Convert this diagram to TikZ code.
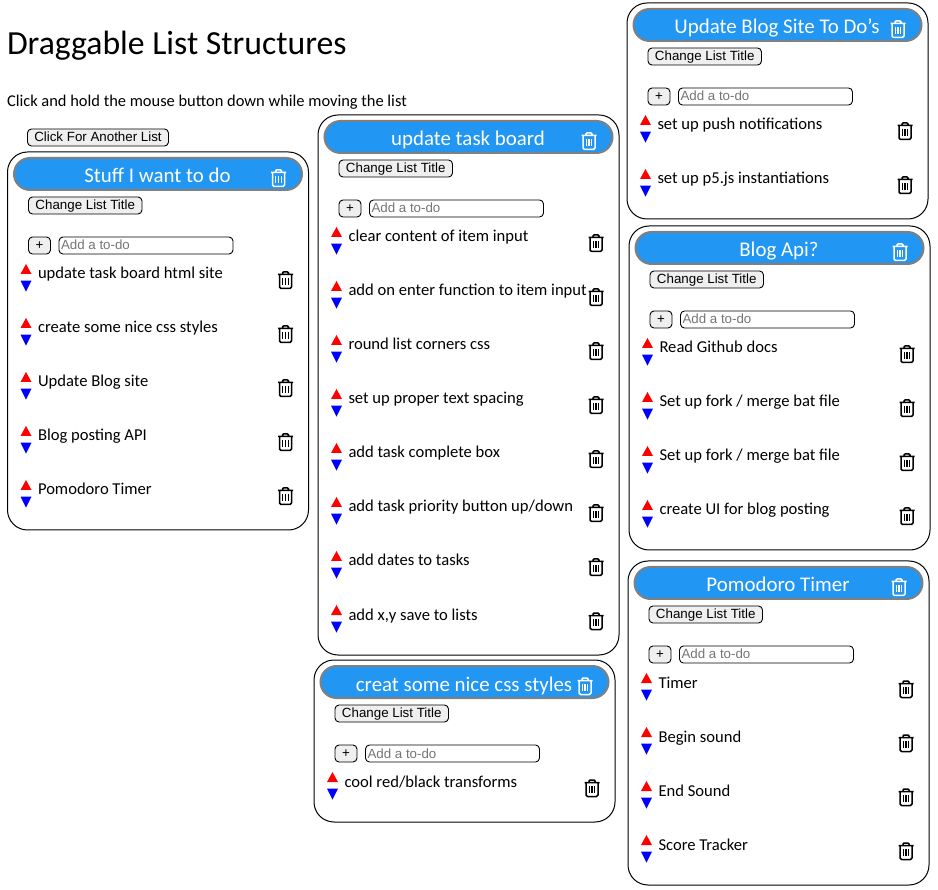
\documentclass[tikz,border=0pt]{standalone}
\usepackage{fontspec}
\setmainfont{Carlito}
\newfontfamily\btnfont{Liberation Sans}
\usepackage{xcolor}
\definecolor{headblue}{HTML}{2196F3}
\definecolor{btngray}{HTML}{EFEFEF}
\definecolor{hintgray}{HTML}{757575}
\tikzset{
    every node/.style={outer sep=0pt},
    panel/.style={draw=black, line width=1pt, fill=white, rounded corners=20pt, anchor=north west, minimum width=301pt, inner sep=0pt},
    headbar/.style={draw=gray, line width=2pt, fill=headblue, rounded corners=16pt, anchor=north west, minimum width=288pt, minimum height=32pt, inner sep=0pt},
    headtext/.style={text=white, anchor=base, font=\fontsize{20.9}{24}\selectfont, inner sep=0pt},
    btn/.style={draw=black, line width=0.9pt, fill=btngray, rounded corners=4pt, anchor=north west, minimum height=17pt, inner sep=0pt, text height=10.5pt, text depth=2pt, font=\btnfont\fontsize{13.33}{14}\selectfont},
    hintbox/.style={draw=black, line width=0.9pt, fill=white, rounded corners=4pt, anchor=north west, minimum width=174pt, minimum height=17pt, inner sep=0pt},
    hinttext/.style={text=hintgray, anchor=base west, inner sep=0pt, font=\btnfont\fontsize{13.33}{14}\selectfont},
    itemtext/.style={anchor=base west, inner sep=0pt, font=\fontsize{16.6}{18}\selectfont},
    pics/trash/.style={code={
        \path[pic actions, line width=1.5pt, fill=none, line join=round]
            (-7.5,-5.5) -- (7.5,-5.5)
            (-3,-5.5) -- (-3,-7) -- (-2,-8) -- (2,-8) -- (3,-7) -- (3,-5.5)
            (-6,-5.5) -- (-6,7) -- (-4.5,8.5) -- (4.5,8.5) -- (6,7) -- (6,-5.5);
        \path[pic actions, line width=1.1pt, fill=none]
            (-2.6,-2) -- (-2.6,5) (0,-2) -- (0,5) (2.6,-2) -- (2.6,5);
    }},
    pics/updown/.style={code={
        \fill[red] (-5.5,5) -- (5.5,5) -- (0,-5) -- cycle;
        \fill[blue] (-5.5,11.7) -- (5.5,11.7) -- (0,22.7) -- cycle;
    }}
}
% one list: name, x, y, height, title, items
\newcommand{\todolist}[6]{
    \begin{scope}[shift={(#2,#3)}]
    \node[panel, minimum height=#4pt] (#1panel) at (0,0) {};
    \node[headbar] (#1head) at (6.5,6) {};
    \node[headtext] (#1title) at (150,31) {#5};
    \pic[draw=white] at (271,26) {trash};
    \node[btn, minimum width=113.5pt] (#1change) at (21,45) {Change List Title};
    \node[btn, minimum width=22pt] (#1plus) at (21,85) {+};
    \node[hintbox] (#1input) at (51.5,85) {};
    \node[hinttext] (#1hint) at (53.5,98) {Add a to-do};
    \foreach \itemname [count=\n from 0] in {#6} {
        \pic at (18.5,{117+54*\n}) {updown};
        \node[itemtext] (#1item\n) at (30.5,{127+54*\n}) {\itemname};
        \pic[draw=black] at (278,{128+54*\n}) {trash};
    }
    \end{scope}
}
\begin{document}
\begin{tikzpicture}[x=1pt, y=-1pt]
    \path[use as bounding box, fill=white] (0,0) rectangle (938,890);

    % Page heading
    \node[anchor=base west, inner sep=0pt, font=\fontsize{33.7}{36}\selectfont] (pagetitle) at (7,55) {Draggable List Structures};
    \node[anchor=base west, inner sep=0pt, font=\fontsize{16.45}{18}\selectfont] (pagehelp) at (7,106.5) {Click and hold the mouse button down while moving the list};
    \node[btn, minimum width=141pt] (newlist) at (27.5,129) {Click For Another List};

    % Left column
    \todolist{first}{7.5}{152}{378}{Stuff I want to do}{
        update task board html site, create some nice css styles, Update Blog site, Blog posting API, Pomodoro Timer}

    % Middle column
    \todolist{board}{318}{115}{540}{update task board}{
        clear content of item input, add on enter function to item input, round list corners css, set up proper text spacing, add task complete box, add task priority button up/down, add dates to tasks, {add x,y save to lists}}
    \todolist{css}{314}{660}{162}{creat some nice css styles}{
        cool red/black transforms}

    % Right column
    \todolist{site}{627}{3}{216}{Update Blog Site To Do's}{
        set up push notifications, set up p5.js instantiations}
    \todolist{api}{629}{226}{324}{Blog Api?}{
        Read Github docs, Set up fork / merge bat file, Set up fork / merge bat file, create UI for blog posting}
    \todolist{timer}{628}{561}{324}{Pomodoro Timer}{
        Timer, Begin sound, End Sound, Score Tracker}
\end{tikzpicture}
\end{document}
